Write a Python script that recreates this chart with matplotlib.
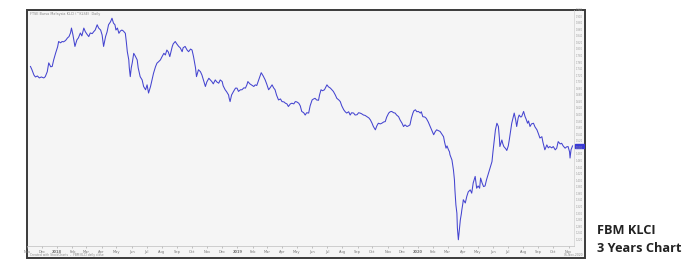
import pandas as pd
import matplotlib
matplotlib.use('Agg')
import matplotlib.pyplot as plt
from matplotlib.patches import Rectangle

# FBM KLCI, daily close, days counted from start_date
start_date = '2017-11-01'
days = [7, 10, 14, 17, 21, 25, 29, 34, 37, 41, 44, 48, 51, 54, 58, 62, 64, 68, 71, 74,
        78, 82, 85, 88, 90, 93, 97, 101, 104, 108, 111, 115, 118, 121, 125, 128, 132, 135, 138, 142,
        145, 149, 152, 155, 159, 162, 165, 169, 172, 175, 178, 180, 183, 186, 189, 192, 195, 199, 201, 203,
        206, 207, 209, 211, 213, 216, 219, 223, 225, 229, 233, 236, 240, 243, 246, 250, 253, 256, 260, 263,
        266, 270, 273, 277, 280, 283, 286, 289, 294, 296, 300, 303, 307, 310, 314, 316, 320, 324, 327, 331,
        334, 337, 341, 343, 345, 347, 351, 354, 357, 361, 364, 368, 371, 374, 377, 381, 384, 388, 391, 395,
        397, 401, 404, 408, 409, 411, 414, 418, 422, 425, 428, 432, 435, 439, 442, 445, 447, 451, 454, 459,
        462, 465, 469, 472, 474, 478, 482, 485, 489, 492, 496, 499, 502, 505, 509, 513, 516, 520, 523, 526,
        529, 533, 536, 540, 543, 546, 550, 553, 556, 560, 563, 566, 570, 573, 577, 580, 583, 586, 590, 592,
        595, 598, 602, 607, 610, 614, 617, 620, 624, 627, 631, 634, 637, 641, 644, 647, 651, 654, 657, 661,
        664, 668, 671, 674, 677, 681, 684, 688, 692, 695, 698, 701, 705, 708, 711, 715, 718, 722, 725, 728,
        732, 735, 738, 742, 745, 748, 752, 755, 759, 762, 765, 769, 772, 775, 778, 781, 783, 786, 789, 792,
        796, 798, 801, 805, 808, 812, 816, 819, 823, 826, 829, 833, 836, 839, 843, 845, 848, 850, 853, 855,
        856, 860, 863, 865, 866, 868, 870, 871, 873, 875, 877, 879, 880, 882, 883, 887, 890, 893, 897, 900,
        903, 907, 910, 913, 916, 918, 921, 924, 927, 930, 934, 937, 941, 943, 945, 948, 951, 954, 956, 957,
        961, 963, 965, 969, 971, 974, 976, 979, 981, 984, 986, 989, 991, 994, 996, 999, 1001, 1005, 1008, 1010,
        1013, 1015, 1018, 1021, 1025, 1028, 1032, 1035, 1038, 1042, 1044, 1048, 1052, 1055, 1058, 1062, 1065, 1069, 1072, 1075,
        1079, 1082, 1085, 1089, 1092, 1095, 1098, 1099, 1101, 1104]
klci = [1748, 1738, 1722, 1716, 1719, 1713, 1716, 1713, 1717, 1732, 1759, 1747, 1748, 1768, 1789, 1808, 1824, 1820, 1824, 1823,
        1827, 1835, 1839, 1850, 1865, 1844, 1809, 1829, 1835, 1850, 1841, 1865, 1854, 1847, 1839, 1850, 1848, 1854, 1859, 1875,
        1865, 1859, 1844, 1809, 1839, 1853, 1875, 1884, 1895, 1880, 1875, 1859, 1865, 1849, 1856, 1859, 1856, 1849, 1823, 1793,
        1768, 1744, 1717, 1744, 1759, 1788, 1780, 1768, 1744, 1717, 1707, 1687, 1677, 1692, 1667, 1687, 1707, 1727, 1747, 1758,
        1762, 1768, 1777, 1788, 1783, 1798, 1792, 1778, 1809, 1817, 1824, 1817, 1809, 1805, 1793, 1805, 1809, 1798, 1793, 1801,
        1798, 1778, 1744, 1717, 1728, 1738, 1732, 1722, 1707, 1687, 1701, 1712, 1707, 1702, 1695, 1707, 1701, 1697, 1707, 1702,
        1689, 1677, 1671, 1661, 1652, 1641, 1661, 1672, 1682, 1682, 1672, 1677, 1677, 1683, 1682, 1692, 1702, 1695, 1692, 1687,
        1692, 1690, 1707, 1719, 1729, 1719, 1707, 1695, 1677, 1683, 1692, 1683, 1677, 1661, 1646, 1649, 1641, 1640, 1636, 1634,
        1626, 1634, 1636, 1634, 1641, 1640, 1636, 1628, 1611, 1607, 1600, 1607, 1606, 1628, 1646, 1649, 1651, 1646, 1645, 1661,
        1677, 1674, 1677, 1692, 1686, 1682, 1677, 1672, 1661, 1651, 1646, 1641, 1628, 1616, 1610, 1606, 1610, 1600, 1607, 1606,
        1600, 1601, 1607, 1606, 1604, 1600, 1599, 1595, 1591, 1585, 1576, 1565, 1555, 1567, 1575, 1573, 1575, 1579, 1580, 1594,
        1606, 1610, 1611, 1607, 1606, 1600, 1595, 1585, 1575, 1565, 1570, 1565, 1567, 1570, 1591, 1606, 1613, 1616, 1610, 1611,
        1606, 1610, 1595, 1594, 1590, 1579, 1565, 1555, 1540, 1549, 1555, 1552, 1550, 1543, 1534, 1518, 1499, 1506, 1494, 1488,
        1479, 1463, 1433, 1403, 1372, 1326, 1301, 1256, 1220, 1250, 1281, 1299, 1311, 1330, 1342, 1332, 1352, 1366, 1372, 1362,
        1393, 1413, 1377, 1384, 1377, 1408, 1393, 1382, 1384, 1403, 1423, 1439, 1458, 1488, 1514, 1555, 1575, 1565, 1530, 1504,
        1524, 1512, 1504, 1497, 1492, 1506, 1524, 1555, 1575, 1594, 1606, 1585, 1565, 1591, 1600, 1594, 1595, 1611, 1595, 1588,
        1575, 1582, 1565, 1573, 1575, 1564, 1555, 1543, 1530, 1534, 1518, 1494, 1509, 1500, 1504, 1500, 1504, 1494, 1499, 1519,
        1512, 1514, 1506, 1499, 1503, 1504, 1488, 1469, 1494, 1506]

month_labels = ['Nov', 'Dec', '2018', 'Feb', 'Mar', 'Apr', 'May', 'Jun', 'Jul', 'Aug', 'Sep', 'Oct',
                'Nov', 'Dec', '2019', 'Feb', 'Mar', 'Apr', 'May', 'Jun', 'Jul', 'Aug', 'Sep', 'Oct',
                'Nov', 'Dec', '2020', 'Feb', 'Mar', 'Apr', 'May', 'Jun', 'Jul', 'Aug', 'Sep', 'Oct', 'Nov']
price_ticks = list(range(1220, 1921, 20))

t0 = pd.Timestamp(start_date)
dates = t0 + pd.to_timedelta(days, unit='D')
months = pd.date_range(start_date, periods=len(month_labels), freq='MS')

W, H = 699, 262
fig = plt.figure(figsize=(W / 100, H / 100), dpi=100)
fig.patch.set_facecolor('white')


def box(x0, y0, x1, y1):
    # pixel box (top-left origin) -> figure fraction
    return [x0 / W, 1 - y1 / H, (x1 - x0) / W, (y1 - y0) / H]


# chart frame
frame = box(27, 10, 585, 258)
fig.add_artist(Rectangle((frame[0], frame[1]), frame[2], frame[3], transform=fig.transFigure,
                         facecolor='#f5f5f5', edgecolor='#3a3a3a', lw=1.4, zorder=0))

ymin, ymax = 1201, 1920
ax = fig.add_axes(box(27, 10, 574, 246))
ax.set_facecolor('none')
ax.plot(dates, klci, color='#4444d0', lw=0.75)
ax.set_xlim(t0, t0 + pd.Timedelta(days=1107))
ax.set_ylim(ymin, ymax)
ax.set_yticks([])
ax.set_xticks(months)
ax.set_xticklabels(month_labels, fontsize=2.6, color='#777')
for lbl in ax.get_xticklabels():
    if lbl.get_text().isdigit():
        lbl.set_fontweight('bold')
ax.tick_params(axis='x', length=1.5, width=0.4, color='#999', pad=1.5)
for s in ['top', 'left']:
    ax.spines[s].set_visible(False)
ax.spines['bottom'].set_color('#bdbdbd')
ax.spines['bottom'].set_linewidth(0.5)
ax.spines['right'].set_color('#d0d0d0')
ax.spines['right'].set_linewidth(0.5)

# price scale panel on the right
ax2 = fig.add_axes(box(574, 10, 585, 246))
ax2.set_facecolor('none')
ax2.set_ylim(ymin, ymax)
ax2.set_xlim(0, 1)
ax2.set_xticks([])
ax2.set_yticks([])
for s in ax2.spines.values():
    s.set_visible(False)
for v in price_ticks:
    ax2.text(0.5, v, f'{v:,}', ha='center', va='center', fontsize=1.8, color='#999')
ax2.axhspan(klci[-1] - 6, klci[-1] + 6, xmin=0.05, xmax=1.0, color='#3a3ad6')

# tiny header / footer texts inside the frame
fig.text(30 / W, 1 - 13.5 / H, 'FTSE Bursa Malaysia KLCI (^KLSE)  Daily', fontsize=2.4, color='#888', va='center')
fig.text(30 / W, 1 - 255 / H, 'Created with StockCharts  -  FBM KLCI daily close', fontsize=2.2, color='#888', va='center')
fig.text(583 / W, 1 - 255 / H, '06-Nov-2020', fontsize=2.2, color='#888', va='center', ha='right')

# caption
fig.text(597 / W, 1 - 231 / H, 'FBM KLCI', fontsize=9.2, fontweight='bold',
         family='Open Sans', color='#222', va='center')
fig.text(597 / W, 1 - 248 / H, '3 Years Chart', fontsize=9.2, fontweight='bold',
         family='Open Sans', color='#222', va='center')

plt.savefig('out.png', dpi=100)
plt.close()
